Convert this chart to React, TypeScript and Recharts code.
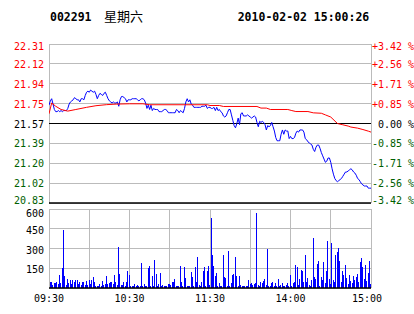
import React from 'react';
import { ComposedChart, Line, Bar, XAxis, YAxis, CartesianGrid, ReferenceLine } from 'recharts';

const STOCK_CODE = '002291';
const WEEKDAY = '星期六';
const STAMP = '2010-02-02 15:00:26';

const PREV_CLOSE = 21.57;
// percent steps of the price axis, bottom to top
const PCT_STEPS = [-3.42, -2.565, -1.71, -0.855, 0, 0.855, 1.71, 2.565, 3.42];
const PRICE_LABELS = ['20.83', '21.02', '21.20', '21.39', '21.57', '21.75', '21.94', '22.12', '22.31'];
const PCT_LABELS = ['-3.42 %', '-2.56 %', '-1.71 %', '-0.85 %', '0.00 %', '+0.85 %', '+1.71 %', '+2.56 %', '+3.42 %'];

const TIME_TICKS = [0, 30, 60, 90, 120, 150, 180, 210, 240];
const TIME_LABEL_AT = [0, 60, 120, 180, 240];
const TIME_LABELS = ['09:30', '10:30', '11:30', '14:00', '15:00'];

const VOL_TICKS = [0, 150, 300, 450, 600];

// one price per minute, 09:30 .. 11:30, 13:01 .. 15:00
const price = [
  21.74, 21.78, 21.80, 21.75, 21.70, 21.68, 21.68, 21.69, 21.68, 21.69,
  21.68, 21.69, 21.69, 21.69, 21.71, 21.75, 21.77, 21.78, 21.79, 21.81,
  21.80, 21.79, 21.79, 21.77, 21.80, 21.80, 21.79, 21.83, 21.86, 21.87,
  21.86, 21.88, 21.87, 21.86, 21.87, 21.84, 21.80, 21.83, 21.85, 21.84,
  21.83, 21.85, 21.86, 21.83, 21.80, 21.78, 21.77, 21.76, 21.77, 21.76,
  21.76, 21.77, 21.73, 21.79, 21.82, 21.82, 21.81, 21.80, 21.77, 21.79,
  21.79, 21.79, 21.80, 21.80, 21.80, 21.80, 21.79, 21.78, 21.79, 21.80,
  21.80, 21.79, 21.76, 21.71, 21.74, 21.70, 21.74, 21.69, 21.71, 21.70,
  21.70, 21.70, 21.68, 21.68, 21.68, 21.69, 21.70, 21.70, 21.69, 21.67,
  21.67, 21.67, 21.67, 21.67, 21.67, 21.70, 21.69, 21.67, 21.69, 21.68,
  21.67, 21.71, 21.77, 21.80, 21.77, 21.79, 21.75, 21.74, 21.72, 21.72,
  21.72, 21.72, 21.72, 21.72, 21.73, 21.73, 21.73, 21.74, 21.71, 21.72,
  21.72, 21.71, 21.71, 21.72, 21.69, 21.72, 21.69, 21.70, 21.68, 21.67,
  21.64, 21.63, 21.64, 21.67, 21.70, 21.70, 21.65, 21.60, 21.55, 21.53,
  21.57, 21.62, 21.56, 21.66, 21.67, 21.64, 21.64, 21.64, 21.65, 21.64,
  21.63, 21.62, 21.63, 21.64, 21.63, 21.58, 21.54, 21.59, 21.58, 21.59,
  21.58, 21.56, 21.51, 21.55, 21.54, 21.55, 21.58, 21.54, 21.50, 21.44,
  21.41, 21.41, 21.41, 21.47, 21.51, 21.47, 21.51, 21.50, 21.50, 21.43,
  21.45, 21.43, 21.43, 21.44, 21.48, 21.50, 21.49, 21.51, 21.51, 21.51,
  21.49, 21.43, 21.42, 21.40, 21.39, 21.38, 21.37, 21.33, 21.31, 21.35,
  21.37, 21.37, 21.34, 21.30, 21.27, 21.24, 21.21, 21.22, 21.25, 21.25,
  21.21, 21.15, 21.10, 21.06, 21.04, 21.03, 21.04, 21.05, 21.06, 21.08,
  21.10, 21.12, 21.12, 21.13, 21.14, 21.15, 21.14, 21.12, 21.11, 21.09,
  21.06, 21.05, 21.03, 21.01, 21.00, 20.99, 20.99, 20.99, 20.97, 20.97,
  20.97,
];

const volume = [
  25, 45, 45, 25, 40, 40, 45, 30, 100, 35,
  150, 440, 88, 25, 70, 38, 63, 30, 63, 45,
  63, 63, 30, 45, 25, 45, 45, 25, 55, 25,
  63, 30, 63, 80, 45, 18, 18, 18, 30, 18,
  50, 25, 30, 88, 30, 38, 45, 45, 30, 100,
  45, 25, 315, 105, 25, 25, 45, 18, 45, 130,
  96, 18, 18, 18, 30, 18, 25, 18, 18, 190,
  18, 30, 18, 18, 150, 170, 18, 88, 18, 215,
  105, 18, 30, 113, 18, 25, 12, 18, 18, 30,
  30, 25, 45, 45, 70, 12, 18, 18, 170, 45,
  18, 160, 75, 18, 18, 18, 120, 80, 18, 160,
  45, 237, 25, 18, 45, 130, 160, 18, 130, 165,
  25, 532, 252, 170, 88, 113, 18, 35, 18, 12,
  252, 80, 75, 18, 282, 18, 38, 100, 105, 237,
  88, 18, 88, 25, 18, 12, 18, 18, 18, 63,
  30, 35, 20, 30, 35, 572, 25, 18, 45, 40,
  50, 70, 25, 297, 18, 18, 38, 45, 18, 38,
  18, 70, 18, 25, 35, 18, 18, 25, 35, 18,
  100, 18, 38, 45, 172, 156, 25, 70, 139, 126,
  45, 247, 45, 75, 25, 18, 63, 383, 80, 70,
  181, 202, 18, 80, 63, 195, 35, 131, 358, 70,
  30, 338, 63, 45, 252, 277, 307, 207, 45, 126,
  96, 176, 75, 30, 96, 55, 35, 88, 63, 80,
  105, 45, 197, 227, 156, 70, 176, 50, 113, 202,
  30,
];

// average price line, read at its turning points
const avgMinute = [0, 2, 5, 9, 14, 20, 28, 35, 43, 50, 60, 70, 75, 118, 120, 127, 130, 155, 158, 162, 165, 178, 181, 184, 193, 197, 203, 206, 210, 215, 219, 223, 225, 230, 234, 238, 240];
const avgPrice = [21.66, 21.76, 21.73, 21.70, 21.685, 21.70, 21.72, 21.735, 21.745, 21.75, 21.753, 21.753, 21.744, 21.744, 21.737, 21.737, 21.728, 21.728, 21.713, 21.713, 21.70, 21.70, 21.69, 21.681, 21.681, 21.669, 21.665, 21.65, 21.63, 21.57, 21.558, 21.546, 21.537, 21.527, 21.514, 21.499, 21.49];

const RED = '#ff0000';
const GREEN = '#006000';
const GRID = '#bbbbbb';
const MONO = "'DejaVu Sans Mono', monospace";

const priceTicks = PCT_STEPS.map(p => PREV_CLOSE * (1 + p / 100));

const rows = price.map((p, i) => {
  const k = avgMinute.indexOf(i);
  return { m: i, price: p, vol: volume[i], avg: k >= 0 ? avgPrice[k] : undefined };
});

const tickIndex = (v: number) => priceTicks.findIndex(t => Math.abs(t - v) < 1e-6);
const tickColor = (i: number) => (i > 4 ? RED : i < 4 ? GREEN : '#000');
const tickDy = (i: number) => (i === 8 ? 6.3 : i === 0 ? 0.6 : 4);

const PriceTick = (props: any) => {
  const i = tickIndex(props.payload.value);
  if (i < 0) return null;
  return (
    <text x={props.x} y={props.y + tickDy(i)} textAnchor="end" fill={tickColor(i)} fontSize={10} fontFamily={MONO}>
      {PRICE_LABELS[i]}
    </text>
  );
};

const PctTick = (props: any) => {
  const i = tickIndex(props.payload.value);
  if (i < 0) return null;
  return (
    <text x={props.x + (i === 4 ? 6 : 0)} y={props.y + tickDy(i)} textAnchor="start" fill={tickColor(i)} fontSize={10} fontFamily={MONO}>
      {PCT_LABELS[i]}
    </text>
  );
};

const VolTick = (props: any) => {
  const v = props.payload.value;
  if (v === 0) return null;
  return (
    <text x={props.x} y={props.y + (v === 600 ? 8 : 5)} textAnchor="end" fill="#000" fontSize={10} fontFamily={MONO}>
      {v}
    </text>
  );
};

const TimeTick = (props: any) => {
  const k = TIME_LABEL_AT.indexOf(props.payload.value);
  if (k < 0) return null;
  return (
    <text x={props.x + (k === TIME_LABELS.length - 1 ? -4 : 0)} y={props.y + 13.5} textAnchor="middle" fill="#000" fontSize={10} fontFamily={MONO}>
      {TIME_LABELS[k]}
    </text>
  );
};

export default function App() {
  return (
    <div style={{ position: 'absolute', left: 0, top: 0, width: 414, height: 314, background: '#fff' }}>
      <svg width={414} height={30} style={{ position: 'absolute', left: 0, top: 0 }}>
        <text x={50} y={20.7} fontSize={11.5} fontWeight="bold" fontFamily={MONO} fill="#000">{STOCK_CODE}</text>
        <text x={104} y={20.7} fontSize={13} fontFamily="'Noto Sans CJK SC', sans-serif" fill="#000">{WEEKDAY}</text>
        <text x={237.7} y={20.7} fontSize={11.5} fontWeight="bold" fontFamily={MONO} fill="#000">{STAMP}</text>
      </svg>

      <div style={{ position: 'absolute', left: 0, top: 0 }}>
        <ComposedChart width={414} height={210} data={rows} margin={{ top: 44, right: 0, bottom: 7, left: 0 }}>
          <CartesianGrid stroke={GRID} shapeRendering="crispEdges" />
          <XAxis dataKey="m" type="number" domain={[0, 240]} ticks={TIME_TICKS} interval={0} height={0} tick={false} axisLine={false} tickLine={false} allowDataOverflow />
          <YAxis type="number" domain={[priceTicks[0], priceTicks[8]]} ticks={priceTicks} interval={0} width={49} tickSize={0} tickMargin={5} axisLine={false} tick={<PriceTick />} allowDataOverflow />
          <YAxis yAxisId="right" orientation="right" type="number" domain={[priceTicks[0], priceTicks[8]]} ticks={priceTicks} interval={0} width={43} tickSize={0} tickMargin={1} axisLine={false} tick={<PctTick />} allowDataOverflow />
          <ReferenceLine x={0} stroke={GRID} shapeRendering="crispEdges" />
          <ReferenceLine x={240} stroke={GRID} shapeRendering="crispEdges" />
          <ReferenceLine y={priceTicks[8]} stroke={GRID} shapeRendering="crispEdges" />
          <ReferenceLine y={PREV_CLOSE} stroke="#000" shapeRendering="crispEdges" />
          <ReferenceLine y={priceTicks[0]} stroke="#000" strokeWidth={1.5} />
          <Line dataKey="price" type="linear" stroke="#0000ff" strokeWidth={1} dot={false} isAnimationActive={false} />
          <Line dataKey="avg" type="linear" stroke={RED} strokeWidth={1} dot={false} connectNulls isAnimationActive={false} />
        </ComposedChart>
      </div>

      <div style={{ position: 'absolute', left: 0, top: 200 }}>
        <ComposedChart width={414} height={114} data={rows} margin={{ top: 9, right: 43, bottom: 6, left: 0 }}>
          <CartesianGrid stroke={GRID} shapeRendering="crispEdges" />
          <XAxis dataKey="m" type="number" domain={[0, 240]} ticks={TIME_TICKS} interval={0} height={20} tickSize={0} tickMargin={0} axisLine={false} tick={<TimeTick />} allowDataOverflow />
          <YAxis type="number" domain={[0, 600]} ticks={VOL_TICKS} interval={0} width={49} tickSize={0} tickMargin={5} axisLine={false} tick={<VolTick />} allowDataOverflow />
          <ReferenceLine x={0} stroke={GRID} shapeRendering="crispEdges" />
          <ReferenceLine x={240} stroke={GRID} shapeRendering="crispEdges" />
          <ReferenceLine y={600} stroke={GRID} shapeRendering="crispEdges" />
          <Bar dataKey="vol" fill="#0000ff" barSize={1} shapeRendering="crispEdges" isAnimationActive={false} />
          <ReferenceLine y={0} stroke="#000" strokeWidth={1.5} />
        </ComposedChart>
      </div>
    </div>
  );
}
